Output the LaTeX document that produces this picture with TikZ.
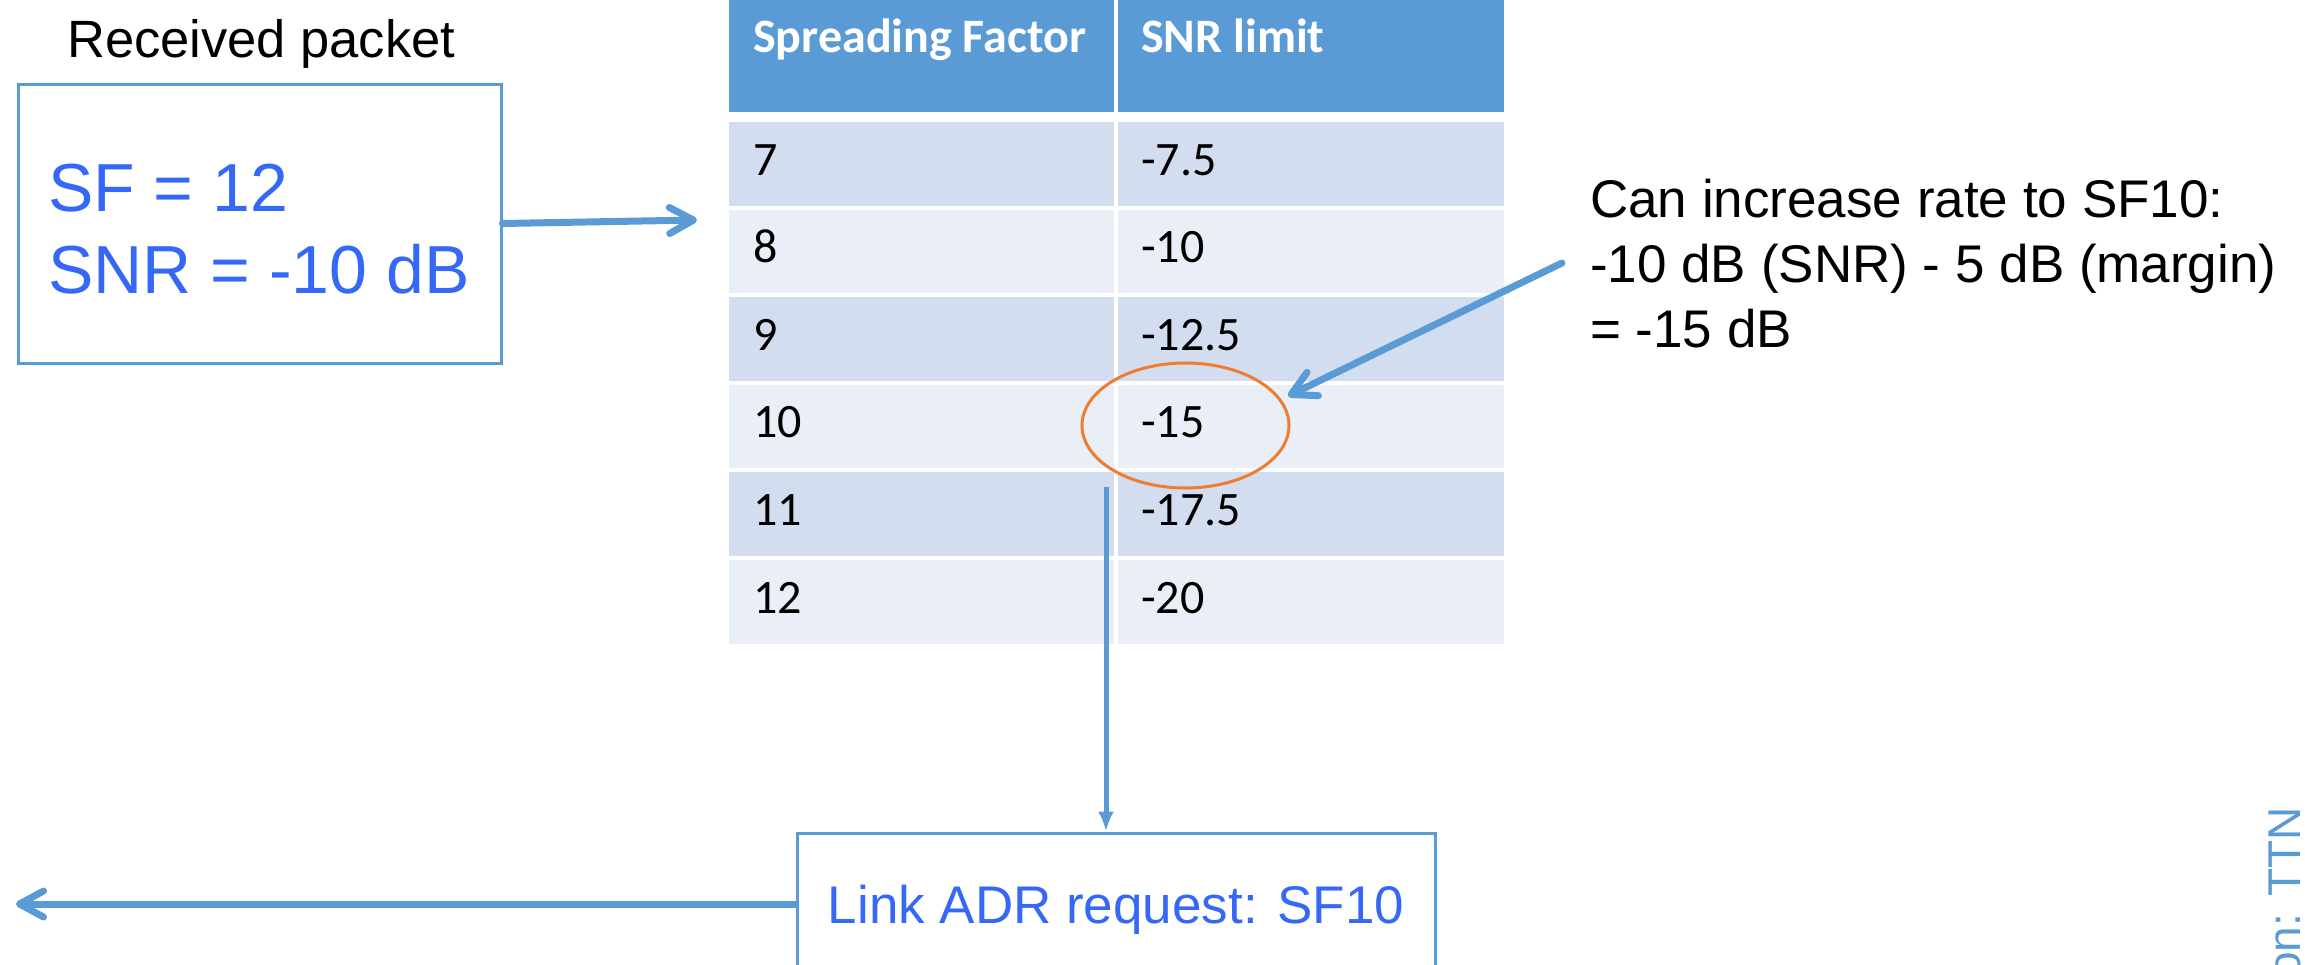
\documentclass[tikz,border=0pt]{standalone}
\usepackage{fontspec}
\setmainfont{Liberation Sans}
\newfontfamily\calib{Carlito}
\usetikzlibrary{arrows.meta,shapes.geometric}
\definecolor{accent}{HTML}{5B9BD5}
\definecolor{rowA}{HTML}{D2DEEF}
\definecolor{rowB}{HTML}{EAEFF7}
\definecolor{orng}{HTML}{ED7D31}
\definecolor{txtblue}{RGB}{53,104,247}
\begin{document}
\begin{tikzpicture}[x=1pt,y=-1pt,
  txt/.style={anchor=base west, inner sep=0pt},
  cell/.style={anchor=base west, inner sep=0pt, font=\calib\fontsize{48}{58}\selectfont},
  cellh/.style={cell, font=\calib\bfseries\fontsize{48}{58}\selectfont, text=white},
  boxed/.style={draw=accent, line width=3pt, inner sep=0pt},
  conn/.style={draw=accent, line width=7pt, line cap=round, -{Straight Barb[length=24pt,width=26pt,round]}},
  connthin/.style={draw=accent, line width=5pt, -{Latex[length=20pt,width=16pt]}}
]
\useasboundingbox (0,0) rectangle (2305,964);

% table header
\fill[accent] (729,-10) rectangle (1114,112);
\fill[accent] (1118,-10) rectangle (1504,112);
\node[cellh] (h1) at (753,52) {Spreading Factor};
\node[cellh] (h2) at (1141,52) {SNR limit};

% table rows
\foreach \i/\a/\b/\c in {0/7/-7.5/rowA,1/8/-10/rowB,2/9/-12.5/rowA,3/10/-15/rowB,4/11/-17.5/rowA,5/12/-20/rowB}{
  \pgfmathsetmacro\ty{122+87.6*\i}
  \fill[\c] (729,\ty) rectangle (1114,\ty+83.5);
  \fill[\c] (1118,\ty) rectangle (1504,\ty+83.5);
  \node[cell] (sf\i) at (753,\ty+53) {\a};
  \node[cell] (snr\i) at (1141,\ty+53) {\b};
}

% highlight ellipse
\node[ellipse, draw=orng, line width=3pt, minimum width=207pt, minimum height=125pt, inner sep=0pt] (circ) at (1185.5,425.5) {};

% received packet
\node[txt, font=\fontsize{52.5}{63}\selectfont] (title) at (67,57) {Received packet};
\node[boxed, minimum width=483pt, minimum height=279pt] (box1) at (259.5,223.5) {};
\node[txt, text=txtblue, font=\fontsize{68}{82}\selectfont] (sfl) at (48,211) {SF = 12};
\node[txt, text=txtblue, font=\fontsize{68}{82}\selectfont] (snrl) at (48,293) {SNR = -10 dB};

% annotation
\node[txt, font=\fontsize{53}{65}\selectfont] (n1) at (1590,217) {Can increase rate to SF10:};
\node[txt, font=\fontsize{53}{65}\selectfont] (n2) at (1590,282) {-10 dB (SNR) - 5 dB (margin)};
\node[txt, font=\fontsize{53}{65}\selectfont] (n3) at (1590,347) {= -15 dB};

% link ADR box
\node[boxed, minimum width=638pt, minimum height=142pt, text=txtblue, text height=38pt, text depth=0pt, font=\fontsize{53}{65}\selectfont] (box2) at (1116,904) {Link ADR request: SF10};

% credit
\node[rotate=90, anchor=base east, inner sep=0pt, text=accent, font=\fontsize{46}{55}\selectfont] (credit) at (2300,807) {Illustration: TTN};

% connectors
\coordinate (t1) at (697,220);
\coordinate (a1) at (1562,263);
\coordinate (a2) at (1288,396);
\coordinate (d1) at (1106,487);
\coordinate (l1) at (16,904);
\draw[conn] (box1.east) -- (t1);
\draw[conn] (a1) -- (a2);
\draw[connthin] (d1) -- (d1 |- box2.north);
\draw[conn] (box2.west) -- (l1);
\end{tikzpicture}
\end{document}
